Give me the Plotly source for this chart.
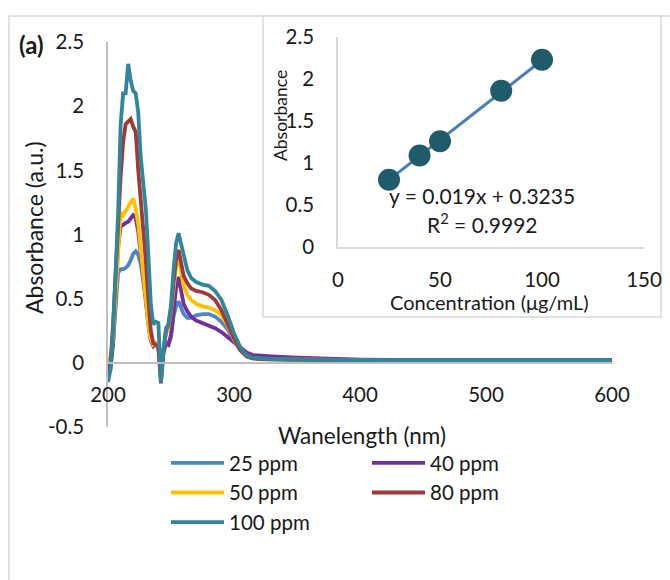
import plotly.graph_objects as go

# ---------------- data ----------------
wavelength = [200, 202, 204, 206, 208, 210, 212, 214, 216, 218, 220, 222, 224, 226, 228, 230,
              232, 234, 236, 238, 240, 242, 244, 246, 248, 250, 252, 254, 256, 258, 260, 263,
              266, 270, 275, 280, 285, 290, 295, 300, 305, 310, 315, 320, 330, 350, 380, 400,
              450, 500, 550, 600]

abs_25 = [-0.05, 0.00, 0.15, 0.45, 0.70, 0.73, 0.73, 0.74, 0.76, 0.80, 0.85, 0.87, 0.84, 0.77, 0.65, 0.50,
          0.32, 0.18, 0.14, 0.15, 0.12, -0.08, 0.08, 0.16, 0.15, 0.20, 0.36, 0.44, 0.48, 0.42, 0.38, 0.35,
          0.35, 0.37, 0.38, 0.38, 0.36, 0.32, 0.26, 0.17, 0.10, 0.05, 0.035, 0.03, 0.028, 0.025, 0.022, 0.02,
          0.02, 0.02, 0.02, 0.02]
abs_40 = [-0.10, -0.05, 0.15, 0.50, 0.90, 1.06, 1.08, 1.09, 1.10, 1.12, 1.15, 1.13, 1.02, 0.85, 0.65, 0.48,
          0.30, 0.17, 0.13, 0.15, 0.12, -0.10, 0.08, 0.15, 0.14, 0.22, 0.42, 0.58, 0.67, 0.55, 0.46, 0.40,
          0.36, 0.33, 0.31, 0.29, 0.27, 0.24, 0.20, 0.16, 0.12, 0.08, 0.06, 0.055, 0.05, 0.04, 0.03, 0.025,
          0.02, 0.02, 0.02, 0.02]
abs_50 = [0.05, 0.02, 0.20, 0.55, 0.95, 1.17, 1.15, 1.18, 1.21, 1.25, 1.28, 1.20, 1.08, 0.88, 0.68, 0.50,
          0.30, 0.18, 0.14, 0.15, 0.12, -0.12, 0.10, 0.22, 0.28, 0.40, 0.58, 0.75, 0.82, 0.70, 0.60, 0.53,
          0.49, 0.46, 0.44, 0.43, 0.41, 0.37, 0.29, 0.18, 0.10, 0.05, 0.035, 0.03, 0.028, 0.025, 0.022, 0.02,
          0.02, 0.02, 0.02, 0.02]
abs_80 = [-0.05, 0.00, 0.30, 0.70, 1.10, 1.45, 1.72, 1.86, 1.88, 1.90, 1.84, 1.80, 1.50, 1.28, 1.05, 0.80,
          0.50, 0.25, 0.15, 0.14, 0.12, -0.16, 0.08, 0.25, 0.30, 0.42, 0.63, 0.80, 0.88, 0.78, 0.68, 0.62,
          0.58, 0.56, 0.55, 0.53, 0.49, 0.41, 0.30, 0.19, 0.10, 0.05, 0.035, 0.03, 0.028, 0.025, 0.022, 0.02,
          0.02, 0.02, 0.02, 0.02]
abs_100 = [-0.15, -0.05, 0.25, 0.65, 1.15, 1.85, 2.10, 2.10, 2.33, 2.20, 2.12, 2.10, 1.95, 1.60, 1.38, 1.20,
           0.85, 0.45, 0.30, 0.32, 0.31, -0.15, 0.10, 0.27, 0.30, 0.45, 0.72, 0.93, 1.01, 0.93, 0.82, 0.72,
           0.66, 0.63, 0.61, 0.60, 0.56, 0.49, 0.37, 0.23, 0.12, 0.06, 0.04, 0.035, 0.03, 0.025, 0.022, 0.02,
           0.02, 0.02, 0.02, 0.02]

series_names = ["25 ppm", "40 ppm", "50 ppm", "80 ppm", "100 ppm"]
series_values = [abs_25, abs_40, abs_50, abs_80, abs_100]
series_colors = ["#4f86c6", "#7030a0", "#ffc000", "#9e3a38", "#31859c"]
series_legend = ["legend", "legend2", "legend", "legend2", "legend"]   # two legend columns

main_x_ticks = [200, 300, 400, 500, 600]
main_x_labels = ["200", "300", "400", "500", "600"]
main_y_ticks = [-0.5, 0, 0.5, 1, 1.5, 2, 2.5]
main_y_labels = ["-0.5", "0", "0.5", "1", "1.5", "2", "2.5"]

# calibration inset
concentration = [25, 40, 50, 80, 100]
cal_absorbance = [0.80, 1.09, 1.26, 1.86, 2.23]
fit_slope = 0.019
fit_intercept = 0.3235
fit_r2 = 0.9992
inset_x_ticks = [0, 50, 100, 150]
inset_y_ticks = [0, 0.5, 1, 1.5, 2, 2.5]
inset_y_labels = ["0", "0.5", "1", "1.5", "2", "2.5"]

# ---------------- layout helpers ----------------
W, H = 670, 580
ML, MR = 60, 20
PW = W - ML - MR


def xp(px):
    return (px - ML) / PW


def yp(py):
    return 1 - py / H


FONT = "Lato"
GRAY = "#bfbfbf"
TXT = "#1a1a1a"

fig = go.Figure()

for name, vals, col, lg in zip(series_names, series_values, series_colors, series_legend):
    fig.add_trace(go.Scatter(x=wavelength, y=vals, mode="lines", name=name, legend=lg,
                             line=dict(color=col, width=3.8), xaxis="x", yaxis="y"))

fit_x = [concentration[0], concentration[-1]]
fit_y = [fit_slope * v + fit_intercept for v in fit_x]
fig.add_trace(go.Scatter(x=fit_x, y=fit_y, mode="lines", showlegend=False,
                         line=dict(color="#4a7ebb", width=3), xaxis="x2", yaxis="y2"))
fig.add_trace(go.Scatter(x=concentration, y=cal_absorbance, mode="markers", showlegend=False,
                         marker=dict(size=22, color="#1f5b6b"), xaxis="x2", yaxis="y2"))

ydom = [yp(427), yp(42)]
y0_paper = ydom[0] + (0 - (-0.5)) / 3.0 * (ydom[1] - ydom[0])

tickfont = dict(family=FONT, size=20.5, color=TXT)
legfont = dict(family=FONT, size=20.5, color=TXT)

fig.update_layout(
    width=W, height=H,
    margin=dict(l=ML, r=MR, t=0, b=0, autoexpand=False),
    paper_bgcolor="white", plot_bgcolor="rgba(0,0,0,0)",
    font=dict(family=FONT, color=TXT),
    xaxis=dict(domain=[xp(108), xp(612)], range=[200, 600], anchor="free", position=y0_paper,
               showline=True, linecolor=GRAY, linewidth=1.5, showgrid=False, zeroline=False,
               tickvals=main_x_ticks, ticktext=main_x_labels, ticks="", tickfont=tickfont,
               ticklabelstandoff=14, automargin=False),
    yaxis=dict(domain=ydom, range=[-0.5, 2.5], anchor="x",
               showline=True, linecolor=GRAY, linewidth=1.5, showgrid=False, zeroline=False,
               tickvals=main_y_ticks, ticktext=main_y_labels, ticks="", tickfont=tickfont,
               ticklabelstandoff=18, automargin=False),
    xaxis2=dict(domain=[xp(338), xp(644)], range=[0, 150], anchor="y2",
                showline=True, linecolor="#d9d9d9", linewidth=1.5, showgrid=False, zeroline=False,
                tickvals=inset_x_ticks, ticks="", tickfont=tickfont, ticklabelstandoff=14,
                automargin=False),
    yaxis2=dict(domain=[yp(247), yp(37)], range=[0, 2.5], anchor="x2",
                showline=True, linecolor="#d9d9d9", linewidth=1.5, showgrid=False, zeroline=False,
                tickvals=inset_y_ticks, ticktext=inset_y_labels, ticks="", tickfont=tickfont,
                ticklabelstandoff=18, automargin=False),
    legend=dict(orientation="v", x=xp(166), y=yp(443), xanchor="left", yanchor="top",
                itemwidth=53, tracegroupgap=0, font=legfont, bgcolor="rgba(0,0,0,0)",
                traceorder="normal"),
    legend2=dict(orientation="v", x=xp(367), y=yp(443), xanchor="left", yanchor="top",
                 itemwidth=53, tracegroupgap=0, font=legfont, bgcolor="rgba(0,0,0,0)",
                 traceorder="normal"),
    shapes=[
        dict(type="rect", xref="paper", yref="paper", x0=xp(9), x1=xp(690), y0=yp(620), y1=yp(16),
             line=dict(color="#d9d9d9", width=1.5), fillcolor="rgba(0,0,0,0)", layer="below"),
        dict(type="rect", xref="paper", yref="paper", x0=xp(263), x1=xp(661), y0=yp(317), y1=yp(16),
             line=dict(color="#d9d9d9", width=1.5), fillcolor="white", layer="below"),
    ],
    annotations=[
        dict(text="<b>(a)</b>", x=xp(31), y=yp(45), xref="paper", yref="paper", showarrow=False,
             xanchor="center", yanchor="middle", font=dict(family=FONT, size=24, color=TXT)),
        dict(text="Absorbance (a.u.)", x=xp(34), y=yp(228), xref="paper", yref="paper", showarrow=False,
             textangle=-90, xanchor="center", yanchor="middle", font=dict(family=FONT, size=23, color=TXT)),
        dict(text="Wanelength (nm)", x=xp(362), y=yp(435), xref="paper", yref="paper", showarrow=False,
             xanchor="center", yanchor="middle", font=dict(family=FONT, size=22.5, color=TXT)),
        dict(text="Absorbance", x=xp(281), y=yp(116), xref="paper", yref="paper", showarrow=False,
             textangle=-90, xanchor="center", yanchor="middle", font=dict(family=FONT, size=17.5, color=TXT)),
        dict(text="Concentration (μg/mL)", x=xp(490), y=yp(302), xref="paper", yref="paper", showarrow=False,
             xanchor="center", yanchor="middle", font=dict(family=FONT, size=20, color=TXT)),
        dict(text=f"y = {fit_slope}x + {fit_intercept}", x=xp(482), y=yp(195), xref="paper", yref="paper",
             showarrow=False, xanchor="center", yanchor="middle", font=dict(family=FONT, size=21, color=TXT)),
        dict(text=f"R<sup>2</sup> = {fit_r2}", x=xp(482), y=yp(223), xref="paper", yref="paper",
             showarrow=False, xanchor="center", yanchor="middle", font=dict(family=FONT, size=21, color=TXT)),
    ],
)

fig.write_html("out.html", config={"displayModeBar": False},
               post_script="document.body.style.margin='0px';")
